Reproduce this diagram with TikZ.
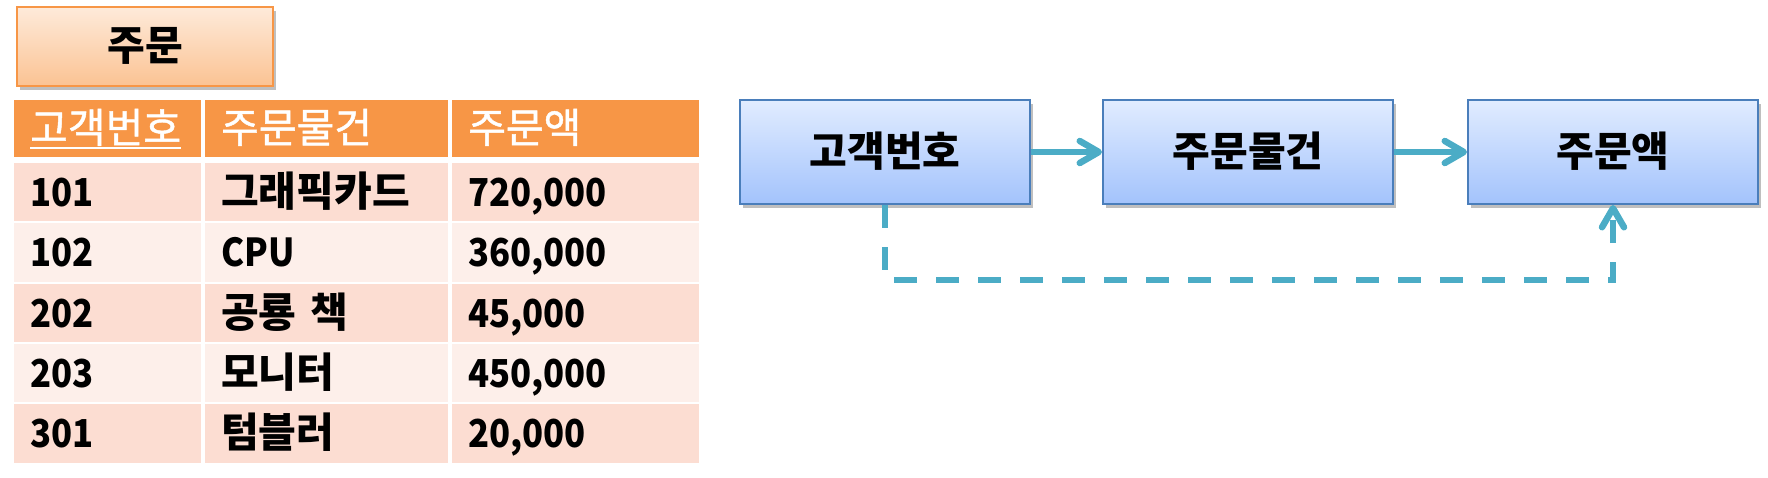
\documentclass[tikz,border=0pt]{standalone}
\usepackage{fontspec}
\setmainfont{Noto Sans CJK KR}
\newfontfamily\numf{Noto Sans CJK KR}[FakeStretch=0.9]
\newfontfamily\hdrf{Noto Sans CJK KR}[FakeBold=1.2]
\usetikzlibrary{arrows.meta,shadows}
\definecolor{hdr}{HTML}{F79646}
\definecolor{rowA}{HTML}{FCDDD2}
\definecolor{rowB}{HTML}{FDEFEA}
\definecolor{boxline}{HTML}{4A7EBB}
\definecolor{boxtop}{HTML}{E1ECFF}
\definecolor{boxbot}{HTML}{A3C3FC}
\definecolor{arr}{HTML}{4BACC6}
\definecolor{ttop}{HTML}{FEEADA}
\definecolor{tbot}{HTML}{FBC393}
\newcommand\ulbox[1]{\vtop{\hbox{#1}\kern1pt\hrule height 2.5pt}}
\tikzset{
  txt/.style={font=\fontsize{41}{44}\selectfont\bfseries},
  cell/.style={txt, anchor=north west, inner ysep=0pt, inner xsep=16pt,
    align=left, text height=28pt, text depth=0pt},
  num/.style={font=\fontsize{38.5}{42}\selectfont\numf\bfseries},
  hcell/.style={cell, fill=hdr, text=white, font=\fontsize{41}{44}\selectfont\hdrf\mdseries},
  acell/.style={cell, fill=rowA},
  bcell/.style={cell, fill=rowB},
  w1/.style={text width=155pt}, w2/.style={text width=211pt}, w3/.style={text width=215pt},
  fbox/.style={txt, rectangle, draw=boxline, line width=2pt, top color=boxtop,
    bottom color=boxbot, minimum width=290pt, minimum height=104pt,
    text height=28pt, text depth=0pt,
    drop shadow={shadow xshift=3pt, shadow yshift=-4pt, opacity=0.25, fill=black}},
  tbox/.style={txt, rectangle, draw=hdr, line width=2pt, top color=ttop,
    bottom color=tbot, minimum width=256pt, minimum height=79pt,
    text height=28pt, text depth=0pt,
    drop shadow={shadow xshift=3pt, shadow yshift=-4pt, opacity=0.25, fill=black}},
  conn/.style={draw=arr, line width=6.5pt, -{Straight Barb[length=19pt,width=22pt,round]}}
}
\begin{document}
\begin{tikzpicture}[x=1pt,y=-1pt]
\useasboundingbox (0,0) rectangle (1768,477);
% title
\node[tbox] (title) at (145,46.5) {주문};
% header
\node[hcell,w1,minimum height=57pt] (h1) at (14,100) {\ulbox{고객번호}};
\node[hcell,w2,minimum height=57pt] (h2) at (205,100) {주문물건};
\node[hcell,w3,minimum height=57pt] (h3) at (452,100) {주문액};
% row 1
\node[acell,num,w1,minimum height=58pt] (r1a) at (14,163) {101};
\node[acell,w2,minimum height=58pt] (r1b) at (205,163) {그래픽카드};
\node[acell,num,w3,minimum height=58pt] (r1c) at (452,163) {720,000};
% row 2
\node[bcell,num,w1,minimum height=59pt] (r2a) at (14,223) {102};
\node[bcell,num,w2,minimum height=59pt] (r2b) at (205,223) {CPU};
\node[bcell,num,w3,minimum height=59pt] (r2c) at (452,223) {360,000};
% row 3
\node[acell,num,w1,minimum height=58pt] (r3a) at (14,284) {202};
\node[acell,w2,minimum height=58pt] (r3b) at (205,284) {공룡 책};
\node[acell,num,w3,minimum height=58pt] (r3c) at (452,284) {45,000};
% row 4
\node[bcell,num,w1,minimum height=58pt] (r4a) at (14,344) {203};
\node[bcell,w2,minimum height=58pt] (r4b) at (205,344) {모니터};
\node[bcell,num,w3,minimum height=58pt] (r4c) at (452,344) {450,000};
% row 5
\node[acell,num,w1,minimum height=59pt] (r5a) at (14,404) {301};
\node[acell,w2,minimum height=59pt] (r5b) at (205,404) {텀블러};
\node[acell,num,w3,minimum height=59pt] (r5c) at (452,404) {20,000};
% dependency boxes
\node[fbox] (b1) at (885,152) {고객번호};
\node[fbox] (b2) at (1248,152) {주문물건};
\node[fbox] (b3) at (1613,152) {주문액};
\draw[conn] (b1) -- (b2);
\draw[conn] (b2) -- (b3);
\draw[conn, dash pattern=on 23pt off 19pt] (b1.south) -- ++(0,75) -| (b3.south);
\end{tikzpicture}
\end{document}
